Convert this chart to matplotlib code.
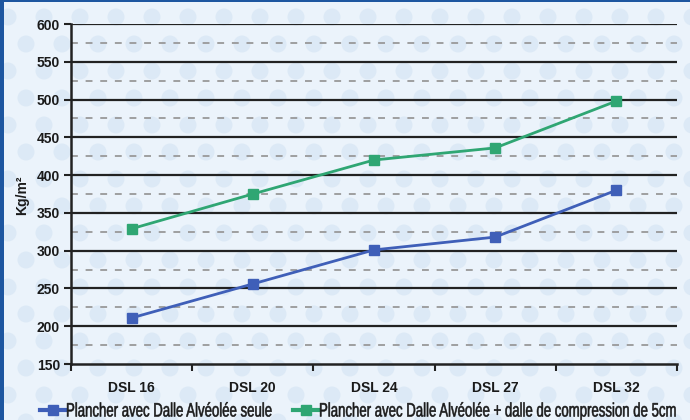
import numpy as np
import matplotlib.pyplot as plt
from matplotlib.patches import Circle, Rectangle
from matplotlib.lines import Line2D
from matplotlib.patheffects import AbstractPathEffect
from matplotlib.transforms import Affine2D

# Load data per floor type
categories = ["DSL 16", "DSL 20", "DSL 24", "DSL 27", "DSL 32"]
dalle_seule = [211, 256, 301, 318, 380]
dalle_compression = [329, 375, 420, 436, 498]
labels = ["Plancher avec Dalle Alvéolée seule",
          "Plancher avec Dalle Alvéolée + dalle de compression de 5cm"]

blue = "#3f5fb8"
green = "#2fa673"
bg = "#ebf3fb"
dot = "#dce9f6"
frame = "#1d56a0"
ink = "#1a1a1a"

plt.rcParams["font.family"] = ["Liberation Sans", "DejaVu Sans"]


class Tall(AbstractPathEffect):
    """Stretch text glyphs vertically from the baseline (narrow-font look)."""

    def __init__(self, sy, stroke=0.4):
        super().__init__()
        self.sy = sy
        self.stroke = stroke

    def draw_path(self, renderer, gc, tpath, affine, rgbFace=None):
        y0 = affine.get_matrix()[1, 2]
        stretch = Affine2D().translate(0, -y0).scale(1, self.sy).translate(0, y0)
        gc0 = renderer.new_gc()
        gc0.copy_properties(gc)
        gc0.set_linewidth(self.stroke)
        gc0.set_foreground(rgbFace)
        renderer.draw_path(gc0, tpath, affine + stretch, rgbFace)
        gc0.restore()


fig = plt.figure(figsize=(6.9, 4.2), dpi=100)
fig.patch.set_facecolor(bg)

# dotted wallpaper behind the chart, in pixel units
bg_ax = fig.add_axes([0, 0, 1, 1], zorder=-1)
bg_ax.set_xlim(0, 690)
bg_ax.set_ylim(420, 0)
bg_ax.axis("off")
for j, yy in enumerate(np.arange(-10, 440, 27)):
    off = 0 if j % 2 == 0 else 18
    for xx in np.arange(-10 + off, 710, 36):
        bg_ax.add_patch(Circle((xx, yy), 8.5, facecolor=dot, edgecolor="none"))
# blue frame on left and top
bg_ax.add_patch(Rectangle((0, 0), 4, 420, facecolor=frame, edgecolor="none"))
bg_ax.add_patch(Rectangle((0, 0), 690, 2, facecolor=frame, edgecolor="none"))

ax = fig.add_axes([71 / 690, 1 - 364 / 420, (677 - 71) / 690, 340 / 420])
ax.set_facecolor("none")

x = np.arange(len(categories))
ax.plot(x, dalle_seule, color=blue, marker="s", markersize=7, linewidth=2, zorder=3)
ax.plot(x, dalle_compression, color=green, marker="s", markersize=7, linewidth=2, zorder=3)

ax.set_xlim(-0.5, len(categories) - 0.5)
ax.set_ylim(150, 600)

# solid lines every 50, dashed in between
for v in range(200, 601, 50):
    ax.axhline(v, color="#222222", linewidth=1.6, zorder=1)
for v in range(175, 600, 50):
    ax.axhline(v, color="#999999", linewidth=1.3, linestyle=(0, (3.8, 4.3)), zorder=1)

ax.set_yticks(range(150, 601, 50))
ax.set_xticks(x)
ax.set_xticklabels(categories)
ax.set_xticks(np.arange(-0.5, len(categories), 1), minor=True)
ax.tick_params(axis="x", which="major", length=0, pad=12)
ax.tick_params(axis="x", which="minor", length=5, width=1.5, color="#222222", direction="out")
ax.tick_params(axis="y", length=5, width=1.5, color="#222222", direction="out", pad=3)
for lbl in ax.get_xticklabels() + ax.get_yticklabels():
    lbl.set_fontweight("bold")
    lbl.set_fontsize(10)
    lbl.set_color(ink)

for side in ["top", "right"]:
    ax.spines[side].set_visible(False)
for side in ["left", "bottom"]:
    ax.spines[side].set_linewidth(1.8)
    ax.spines[side].set_color("#222222")

fig.text(22 / 690, 1 - 195 / 420, "Kg/m²", rotation=90, ha="center", va="center",
         fontsize=10, fontweight="bold", color=ink)

# legend drawn by hand so the narrow labels sit tight against their keys
leg_y = 1 - 409.5 / 420
key_x = [(40, 65), (293, 318)]
text_x = [66, 319]
texts = []
for (x1, x2), tx, lab, col in zip(key_x, text_x, labels, [blue, green]):
    fig.add_artist(Line2D([x1 / 690, x2 / 690], [leg_y, leg_y], transform=fig.transFigure,
                          color=col, linewidth=3))
    fig.add_artist(Line2D([(x1 + x2) / 2 / 690], [leg_y], transform=fig.transFigure,
                          color=col, marker="s", markersize=7.5))
    texts.append(fig.text(tx / 690, 1 - 416.5 / 420, lab, ha="left", va="baseline",
                          fontsize=14, color=ink))

# shrink the labels to the available width, then stretch back to full height
renderer = fig.canvas.get_renderer()
full_w = texts[1].get_window_extent(renderer).width
size = 14 * (679 - text_x[1]) / full_w
for t in texts:
    t.set_fontsize(size)
    t.set_path_effects([Tall(14 / size)])

fig.savefig("out.png", dpi=100, facecolor=fig.get_facecolor())
